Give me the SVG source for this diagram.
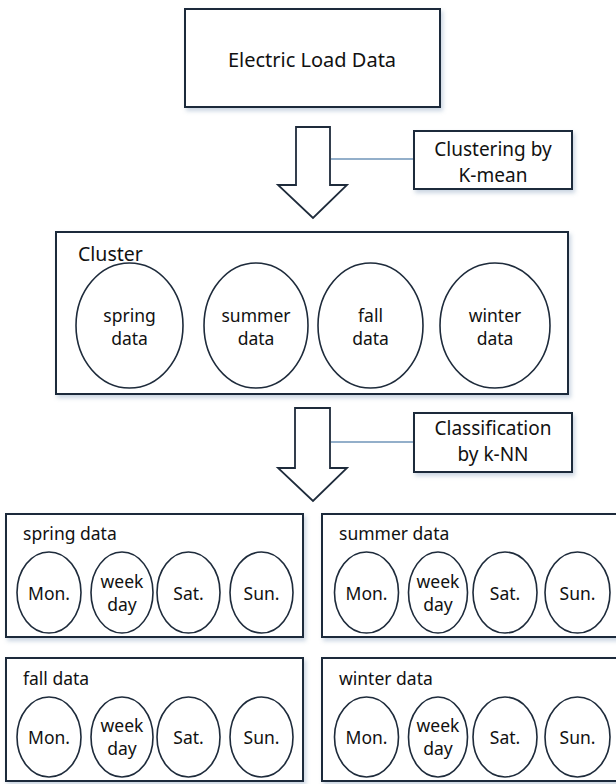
<svg xmlns="http://www.w3.org/2000/svg" width="616" height="784" viewBox="0 0 616 784">
<defs>
<filter id="sh" x="-10%" y="-10%" width="130%" height="140%">
<feDropShadow dx="2" dy="3" stdDeviation="2" flood-color="#8aa2bd" flood-opacity="0.45"/>
</filter>
<style>
.box{fill:#fff;stroke:#1e2b3b;stroke-width:2;}
.ell{fill:#fff;stroke:#1e2b3b;stroke-width:1.6;}
.arr{fill:#fff;stroke:#1e2b3b;stroke-width:1.8;stroke-linejoin:miter;}
.ln{stroke:#6f94b8;stroke-width:1.3;fill:none;}
text{font-family:"Noto Sans","Open Sans",sans-serif;fill:#111;}
.c{text-anchor:middle;}
.t20{font-size:20px;}
.t19{font-size:19px;}
.t17{font-size:17.5px;}
</style>
</defs>
<rect width="616" height="784" fill="#fff"/>

<g id="electric-load-data">
<rect class="box" filter="url(#sh)" x="185" y="9" width="255" height="98"/>
<text class="c t20" x="312" y="67">Electric Load Data</text>
</g>

<g id="connectors">
<polygon class="arr" points="296,127 330,127 330,185 347,185 313,218 278,185 296,185"/>
<line class="ln" x1="331" y1="159" x2="414" y2="159"/>
<polygon class="arr" points="295,408 330,408 330,468 347,468 313,501 278,468 295,468"/>
<line class="ln" x1="331" y1="442" x2="414" y2="442"/>
</g>

<g id="clustering-label">
<rect class="box" filter="url(#sh)" x="414" y="131" width="158" height="58"/>
<text class="c t19" x="493" y="156">Clustering by</text>
<text class="c t19" x="493" y="182">K-mean</text>
</g>

<g id="classification-label">
<rect class="box" filter="url(#sh)" x="414" y="413" width="158" height="59"/>
<text class="c t19" x="493" y="435">Classification</text>
<text class="c t19" x="493" y="461">by k-NN</text>
</g>

<g id="cluster">
<rect class="box" filter="url(#sh)" x="56" y="232" width="512" height="162"/>
<text x="78" y="261" style="font-size:19.5px">Cluster</text>
<ellipse class="ell" cx="129.5" cy="325.5" rx="53.5" ry="62.5"/>
<text class="c t17" x="129.5" y="322">spring</text>
<text class="c t17" x="129.5" y="345">data</text>
<ellipse class="ell" cx="256" cy="325.5" rx="52" ry="62.5"/>
<text class="c t17" x="256" y="322">summer</text>
<text class="c t17" x="256" y="345">data</text>
<ellipse class="ell" cx="370.5" cy="325.5" rx="52.5" ry="62.5"/>
<text class="c t17" x="370.5" y="322">fall</text>
<text class="c t17" x="370.5" y="345">data</text>
<ellipse class="ell" cx="495" cy="325.5" rx="55" ry="62.5"/>
<text class="c t17" x="495" y="322">winter</text>
<text class="c t17" x="495" y="345">data</text>
</g>

<g id="spring-data">
<rect class="box" filter="url(#sh)" x="6" y="514" width="297" height="123"/>
<text class="t17" x="23" y="540">spring data</text>
<ellipse class="ell" cx="49" cy="592.5" rx="32" ry="40.5"/>
<text class="c t17" x="49" y="600">Mon.</text>
<ellipse class="ell" cx="122" cy="592.5" rx="31" ry="40.5"/>
<text class="c t17" x="122" y="588">week</text>
<text class="c t17" x="122" y="611">day</text>
<ellipse class="ell" cx="188.5" cy="592.5" rx="31.5" ry="40.5"/>
<text class="c t17" x="188.5" y="600">Sat.</text>
<ellipse class="ell" cx="261.5" cy="592.5" rx="31.5" ry="40.5"/>
<text class="c t17" x="261.5" y="600">Sun.</text>
</g>

<g id="summer-data">
<rect class="box" filter="url(#sh)" x="322" y="514" width="300" height="123"/>
<text class="t17" x="339" y="540">summer data</text>
<ellipse class="ell" cx="366.5" cy="592.5" rx="32" ry="40.5"/>
<text class="c t17" x="366.5" y="600">Mon.</text>
<ellipse class="ell" cx="438" cy="592.5" rx="29.5" ry="40.5"/>
<text class="c t17" x="438" y="588">week</text>
<text class="c t17" x="438" y="611">day</text>
<ellipse class="ell" cx="505" cy="592.5" rx="32" ry="40.5"/>
<text class="c t17" x="505" y="600">Sat.</text>
<ellipse class="ell" cx="577.5" cy="592.5" rx="32.5" ry="40.5"/>
<text class="c t17" x="577.5" y="600">Sun.</text>
</g>

<g id="fall-data">
<rect class="box" filter="url(#sh)" x="6" y="658" width="297" height="123"/>
<text class="t17" x="23" y="685">fall data</text>
<ellipse class="ell" cx="49" cy="737" rx="32" ry="40"/>
<text class="c t17" x="49" y="744">Mon.</text>
<ellipse class="ell" cx="122" cy="737" rx="31" ry="40"/>
<text class="c t17" x="122" y="732">week</text>
<text class="c t17" x="122" y="755">day</text>
<ellipse class="ell" cx="188.5" cy="737" rx="31.5" ry="40"/>
<text class="c t17" x="188.5" y="744">Sat.</text>
<ellipse class="ell" cx="261.5" cy="737" rx="31.5" ry="40"/>
<text class="c t17" x="261.5" y="744">Sun.</text>
</g>

<g id="winter-data">
<rect class="box" filter="url(#sh)" x="322" y="658" width="300" height="123"/>
<text class="t17" x="339" y="685">winter data</text>
<ellipse class="ell" cx="366.5" cy="737" rx="32" ry="40"/>
<text class="c t17" x="366.5" y="744">Mon.</text>
<ellipse class="ell" cx="438" cy="737" rx="29.5" ry="40"/>
<text class="c t17" x="438" y="732">week</text>
<text class="c t17" x="438" y="755">day</text>
<ellipse class="ell" cx="505" cy="737" rx="32" ry="40"/>
<text class="c t17" x="505" y="744">Sat.</text>
<ellipse class="ell" cx="577.5" cy="737" rx="32.5" ry="40"/>
<text class="c t17" x="577.5" y="744">Sun.</text>
</g>
</svg>
